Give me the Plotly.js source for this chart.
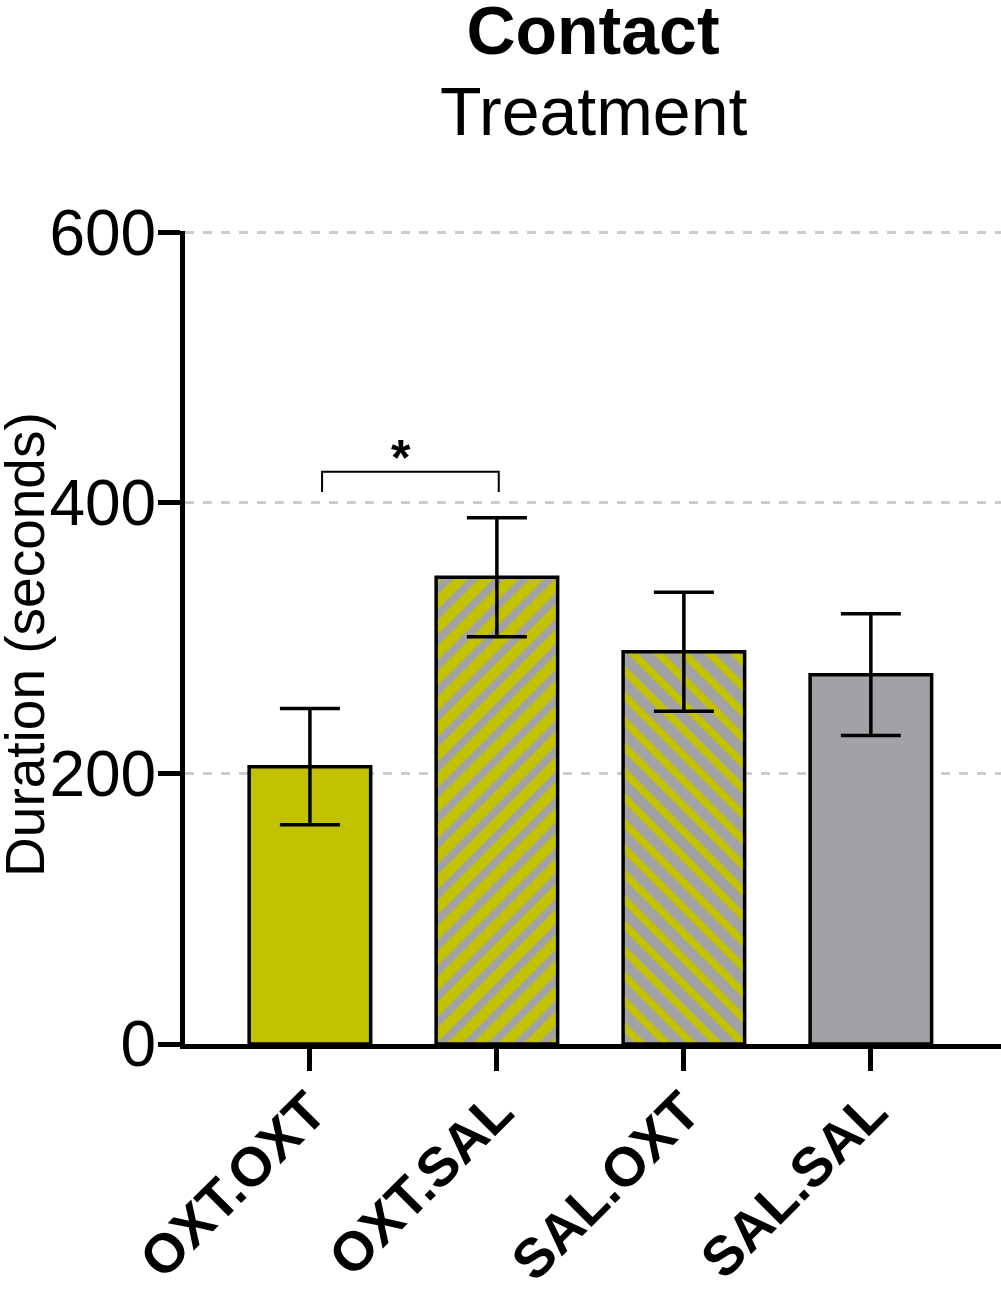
<!DOCTYPE html>
<html>
<head>
<meta charset="utf-8">
<script src="https://cdn.plot.ly/plotly-3.0.1.min.js"></script>
<style>
  html, body { margin: 0; padding: 0; background: #fff; }
  #plot { width: 1001px; height: 1300px; }
</style>
</head>
<body>
<div id="plot"></div>
<script>
// values
const groups = ["OXT.OXT", "OXT.SAL", "SAL.OXT", "SAL.SAL"];
const duration = [205, 345, 290, 273];
const sem = [43, 44, 44, 45];

// significance bracket between OXT.OXT and OXT.SAL
const bracketX = [0.065, 1.01];
const bracketY = [408, 423];
const starX = 0.485;
const starY = 433;

const yellow = "#c2c200";
const grey = "#a2a1a6";
const font = "Liberation Sans, Arial, sans-serif";

// fill per group: background, stripe colour, stripe direction
const fills = [
    { bg: yellow, fg: yellow, shape: "" },
    { bg: yellow, fg: grey, shape: "/" },
    { bg: grey, fg: yellow, shape: "\\" },
    { bg: grey, fg: grey, shape: "" }
];

// one trace per bar so each one can carry its own pattern colours
const traces = groups.map((g, i) => ({
    type: "bar",
    x: [g],
    y: [duration[i]],
    width: 0.65,
    marker: {
        color: fills[i].bg,
        line: { color: "#000", width: 3.5 },
        pattern: {
            shape: fills[i].shape,
            bgcolor: fills[i].bg,
            fgcolor: fills[i].fg,
            fgopacity: 1,
            size: 18,
            solidity: 0.42,
            fillmode: "replace"
        }
    },
    error_y: {
        type: "data",
        array: [sem[i]],
        visible: true,
        color: "#000",
        thickness: 3.5,
        width: 30
    },
    hoverinfo: "x+y",
    showlegend: false
}));

const layout = {
    width: 1001,
    height: 1300,
    margin: { l: 185, r: 0, t: 231, b: 256 },
    barmode: "overlay",
    paper_bgcolor: "#fff",
    plot_bgcolor: "#fff",
    font: { family: font, color: "#000" },
    title: {
        text: "<b>Contact</b>",
        font: { family: font, size: 68, color: "#000" },
        x: 0.5,
        xref: "paper",
        xanchor: "center",
        y: 0.977,
        yref: "container",
        yanchor: "middle"
    },
    xaxis: {
        type: "category",
        range: [-0.668, 3.696],
        showline: true,
        linecolor: "#000",
        linewidth: 5,
        ticks: "outside",
        ticklen: 22,
        tickwidth: 5,
        tickcolor: "#000",
        tickangle: -45,
        ticklabelstandoff: -14,
        tickfont: { family: font, size: 55, weight: "bold", color: "#000" },
        showgrid: false,
        zeroline: false,
        fixedrange: true
    },
    yaxis: {
        range: [0, 601],
        tickvals: [0, 200, 400, 600],
        showline: true,
        linecolor: "#000",
        linewidth: 5,
        ticks: "outside",
        ticklen: 22,
        tickwidth: 5,
        tickcolor: "#000",
        ticklabelstandoff: -11,
        tickfont: { family: font, size: 64, color: "#000" },
        showgrid: true,
        gridcolor: "#cccccc",
        gridwidth: 3,
        griddash: "9px,9px",
        zeroline: false,
        fixedrange: true
    },
    shapes: [
        {
            type: "path",
            xref: "x", yref: "y",
            path: "M " + bracketX[0] + "," + bracketY[0] +
                  " L " + bracketX[0] + "," + bracketY[1] +
                  " L " + bracketX[1] + "," + bracketY[1] +
                  " L " + bracketX[1] + "," + bracketY[0],
            line: { color: "#000", width: 2 }
        }
    ],
    annotations: [
        {
            // subtitle line under the bold title
            x: 0.5, y: 1.1476,
            xref: "paper", yref: "paper",
            xanchor: "center", yanchor: "middle",
            text: "Treatment",
            showarrow: false,
            font: { family: font, size: 68, color: "#000" }
        },
        {
            // y axis title
            x: -0.196, y: 0.491,
            xref: "paper", yref: "paper",
            xanchor: "center", yanchor: "middle",
            text: "Duration (seconds)",
            textangle: -90,
            showarrow: false,
            font: { family: font, size: 55, color: "#000" }
        },
        {
            x: starX,
            y: starY,
            xref: "x", yref: "y",
            text: "<b>*</b>",
            showarrow: false,
            font: { family: font, size: 50, color: "#000" }
        }
    ]
};

Plotly.newPlot("plot", traces, layout, { displayModeBar: false, responsive: false });
</script>
</body>
</html>
